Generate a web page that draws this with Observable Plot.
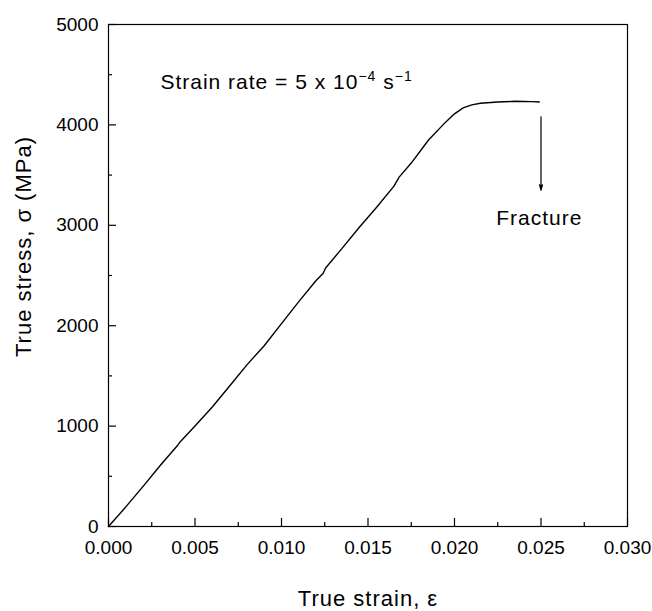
<!DOCTYPE html>
<html><head><meta charset="utf-8">
<script src="https://cdn.jsdelivr.net/npm/d3@7"></script>
<script src="https://cdn.jsdelivr.net/npm/@observablehq/plot@0.6"></script>
<style>body{margin:0;background:#fff}</style>
</head><body><div id="chart"></div>
<script>
// Data
const strain = [0, 0.0010, 0.0020, 0.0030, 0.0040, 0.00415, 0.0050, 0.0060, 0.0070, 0.0080, 0.0090, 0.0100, 0.0110, 0.0120, 0.0124, 0.01255, 0.0135, 0.0145, 0.0155, 0.0165, 0.0168, 0.0175, 0.0185, 0.0195, 0.0200, 0.0205, 0.0210, 0.0215, 0.0225, 0.0235, 0.0245, 0.0249];
const stress = [0, 195, 400, 610, 810, 845, 1000, 1190, 1400, 1610, 1800, 2020, 2240, 2450, 2520, 2575, 2770, 2980, 3180, 3390, 3480, 3620, 3850, 4030, 4110, 4170, 4200, 4215, 4228, 4235, 4232, 4228];
const xTicks = [0, 0.005, 0.010, 0.015, 0.020, 0.025, 0.030];
const xMinor = [0.0025, 0.0075, 0.0125, 0.0175, 0.0225, 0.0275];
const yTicks = [0, 1000, 2000, 3000, 4000, 5000];
const yMinor = [500, 1500, 2500, 3500, 4500];
const xLabel = ["True strain, \u03B5"];
const yLabel = ["True stress, \u03C3 (MPa)"];
const rateNote = [{x: 0.003, y: 4420, text: "Strain rate = 5 x 10"}];
const rateExponent = "\u22124";
const rateUnit = " s";
const rateUnitExponent = "\u22121";
const fractureArrow = [{x: 0.025, y1: 4080, y2: 3350}];
const fractureNote = [{x: 0.0249, y: 3075, text: "Fracture"}];

const curve = strain.map((s, i) => ({strain: s, stress: stress[i]}));

const W = 652, H = 611, ML = 108, MR = 25, MT = 24, MB = 85;
const frameW = W - ML - MR, frameH = H - MT - MB;

const chart = Plot.plot({
  width: W,
  height: H,
  marginLeft: ML,
  marginRight: MR,
  marginTop: MT,
  marginBottom: MB,
  style: {fontFamily: "'Liberation Sans', Arial, sans-serif", fontSize: "19px", background: "#fff", color: "#000"},
  x: {domain: [0, 0.030]},
  y: {domain: [0, 5000]},
  marks: [
    Plot.frame({stroke: "#000", strokeWidth: 1.2}),
    Plot.axisX(xTicks, {tickSize: 0, tickPadding: 14, tickFormat: d3.format(".3f"), label: null}),
    Plot.axisY(yTicks, {tickSize: 0, tickPadding: 10, tickFormat: d => String(d), label: null}),
    Plot.tickX(xTicks, {x: d => d, insetTop: frameH - 8, stroke: "#000", strokeWidth: 1.2}),
    Plot.tickX(xMinor, {x: d => d, insetTop: frameH - 4, stroke: "#000", strokeWidth: 1.2}),
    Plot.tickY(yTicks, {y: d => d, insetRight: frameW - 8, stroke: "#000", strokeWidth: 1.2}),
    Plot.tickY(yMinor, {y: d => d, insetRight: frameW - 4, stroke: "#000", strokeWidth: 1.2}),
    Plot.text(xLabel, {text: d => d, frameAnchor: "bottom", textAnchor: "middle", lineAnchor: "middle", dy: 72, fontSize: 22}),
    Plot.text(yLabel, {text: d => d, frameAnchor: "left", textAnchor: "middle", lineAnchor: "middle", rotate: -90, dx: -85, dy: -29, fontSize: 22}),
    Plot.line(curve, {x: "strain", y: "stress", stroke: "#000", strokeWidth: 1.4}),
    Plot.arrow(fractureArrow, {x: "x", y1: "y1", y2: "y2", stroke: "#000", strokeWidth: 1.2, headLength: 7, headAngle: 30}),
    Plot.text(rateNote, {x: "x", y: "y", text: "text", textAnchor: "start", fontSize: 21}),
    Plot.text(fractureNote, {x: "x", y: "y", text: "text", fontSize: 21})
  ]
});

// typographic touches: wider letter spacing and real superscripts
chart.querySelectorAll("text").forEach(t => {
  const s = t.textContent;
  if (s === xLabel[0] || s === yLabel[0] || s === "Fracture") t.setAttribute("letter-spacing", "1");
  if (s === rateNote[0].text) {
    t.setAttribute("letter-spacing", "1");
    const ns = "http://www.w3.org/2000/svg";
    const sup1 = document.createElementNS(ns, "tspan");
    sup1.setAttribute("dy", "-8"); sup1.setAttribute("font-size", "14"); sup1.textContent = rateExponent;
    const unit = document.createElementNS(ns, "tspan");
    unit.setAttribute("dy", "8"); unit.setAttribute("font-size", "21"); unit.textContent = rateUnit;
    const sup2 = document.createElementNS(ns, "tspan");
    sup2.setAttribute("dy", "-8"); sup2.setAttribute("font-size", "14"); sup2.textContent = rateUnitExponent;
    t.append(sup1, unit, sup2);
  }
});
document.getElementById("chart").append(chart);
</script>
</body></html>
